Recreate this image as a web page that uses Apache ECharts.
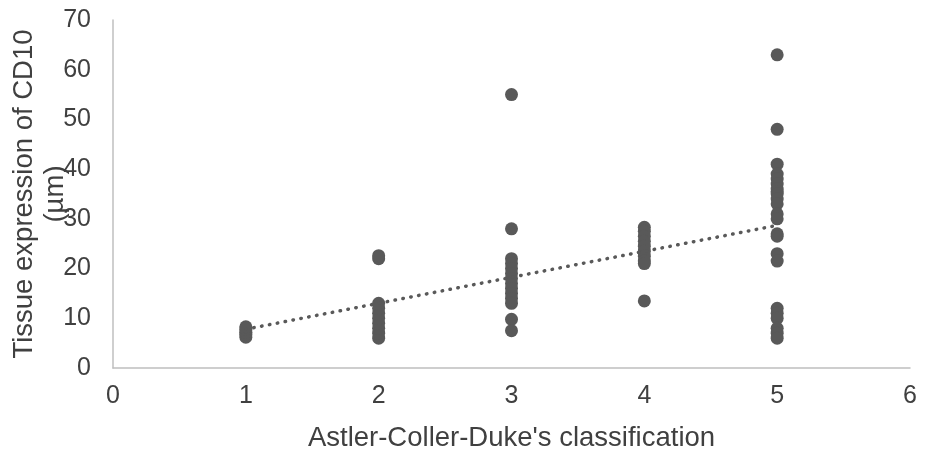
<!DOCTYPE html>
<html>
<head>
<meta charset="utf-8">
<script src="https://cdn.jsdelivr.net/npm/echarts@6/dist/echarts.min.js"></script>
<style>
html,body{margin:0;padding:0;background:#fff;}
#chart{width:930px;height:452px;}
</style>
</head>
<body>
<div id="chart"></div>
<script>
// classification stage -> CD10 values
var stages = [1, 2, 3, 4, 5];
var stage1 = [6.2, 6.8, 7.2, 7.8, 8.3];
var stage2 = [22.0, 22.6, 6.0, 7.0, 8.0, 9.0, 10.0, 11.0, 12.0, 13.0];
var stage3 = [55, 28, 22, 21, 20, 19, 18, 17, 16, 15, 14, 13, 9.8, 7.5];
var stage4 = [28.3, 27.5, 26.5, 25.5, 24.5, 23.5, 22.5, 21.5, 21, 13.5];
var stage5 = [63, 48, 41, 39, 38, 37, 36, 35.5, 35, 34, 33, 31, 30, 27, 26.5, 23, 21.5, 12, 11, 10, 8, 7, 6];

var groups = [stage1, stage2, stage3, stage4, stage5];
var points = [];
groups.forEach(function(g, i){
	g.forEach(function(v){ points.push([stages[i], v]); });
});

// linear trend (least squares) like the spreadsheet trendline
function linearFit(pts){
	var n = pts.length, sx = 0, sy = 0, sxx = 0, sxy = 0;
	pts.forEach(function(p){ sx += p[0]; sy += p[1]; sxx += p[0]*p[0]; sxy += p[0]*p[1]; });
	var k = (n*sxy - sx*sy) / (n*sxx - sx*sx);
	var b = (sy - k*sx) / n;
	return {k:k, b:b};
}
var fit = linearFit(points);
var xFirst = stages[0], xLast = stages[stages.length-1];
var trend = [[xFirst, fit.k*xFirst + fit.b], [xLast, fit.k*xLast + fit.b]];

var chart = echarts.init(document.getElementById('chart'));
var txt = '#404040', grey = '#595959';
chart.setOption({
	animation:false,
	grid:{left:113, right:20, top:20, bottom:84, containLabel:false, outerBoundsMode:'none'},
	xAxis:{
		type:'value', min:0, max:6, interval:1,
		name:"Astler-Coller-Duke's classification",
		nameLocation:'middle', nameGap:56, nameMoveOverlap:false,
		nameTextStyle:{fontSize:27.5, color:txt, fontFamily:'Liberation Sans, Arial'},
		axisLine:{show:true, lineStyle:{color:'#bfbfbf', width:1.5}},
		axisTick:{show:false},
		splitLine:{show:false},
		axisLabel:{fontSize:25, color:txt, margin:16, fontFamily:'Liberation Sans, Arial'}
	},
	yAxis:{
		type:'value', min:0, max:70, interval:10,
		name:'Tissue expression of CD10\n(µm)',
		nameLocation:'middle', nameRotate:90, nameGap:42, nameMoveOverlap:false,
		nameTextStyle:{fontSize:27.5, lineHeight:31, color:txt, fontFamily:'Liberation Sans, Arial'},
		axisLine:{show:true, lineStyle:{color:'#bfbfbf', width:1.5}},
		axisTick:{show:false},
		splitLine:{show:false},
		axisLabel:{fontSize:25, color:txt, margin:22, fontFamily:'Liberation Sans, Arial'}
	},
	series:[
		{
			type:'scatter', data:points, symbolSize:13,
			itemStyle:{color:grey, opacity:1}
		},
		{
			type:'line', data:trend, symbol:'none', z:3,
			lineStyle:{color:grey, width:3.5, type:[0.5,7.5], cap:'round'}
		}
	]
});
</script>
</body>
</html>
